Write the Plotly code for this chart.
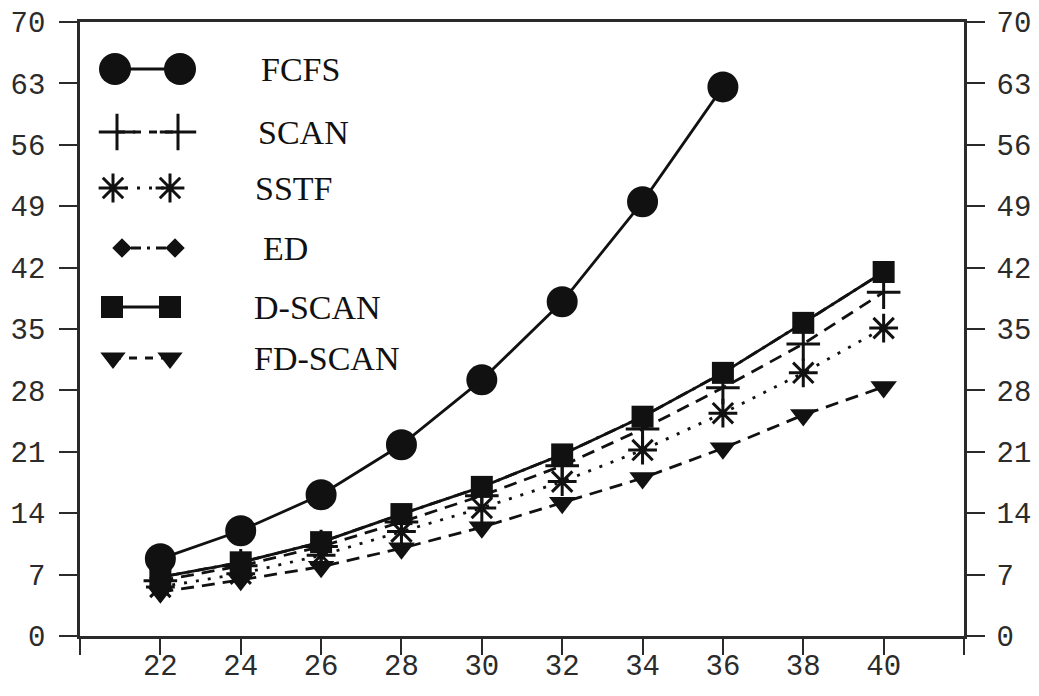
import plotly.graph_objects as go

# Number of requests vs. average service time for six disk-scheduling policies
requests = [22, 24, 26, 28, 30, 32, 34, 36, 38, 40]
fcfs = [8.8, 12.0, 16.1, 21.8, 29.2, 38.1, 49.5, 62.6]
scan = [6.3, 8.0, 10.2, 13.0, 16.0, 19.4, 23.6, 28.3, 33.3, 39.2]
sstf = [5.6, 7.1, 9.2, 11.9, 14.6, 17.6, 21.2, 25.4, 30.0, 35.1]
ed = [6.7, 8.4, 10.7, 13.9, 17.0, 20.7, 25.0, 30.0, 35.7, 41.5]
dscan = [6.7, 8.4, 10.7, 13.9, 17.0, 20.7, 25.0, 30.0, 35.7, 41.5]
fdscan = [5.0, 6.4, 7.9, 10.0, 12.4, 15.2, 18.0, 21.4, 25.2, 28.4]

y_ticks = [0, 7, 14, 21, 28, 35, 42, 49, 56, 63, 70]
x_ticks = [20, 22, 24, 26, 28, 30, 32, 34, 36, 38, 40, 42]
x_ticktext = ["" if v in (20, 42) else str(v) for v in x_ticks]

INK = "#111111"
AXIS = "#2a2a2a"
LW = 2.8

DASH = "13px,8px"
DOT = "3px,9px"
DASHDOT = "3px,6px,12px,6px"

series = [
    # name, values, symbol, size, dash
    ("ED", ed, "diamond", 14, DASHDOT),
    ("FD-SCAN", fdscan, "triangle-down", 23, DASH),
    ("SSTF", sstf, "asterisk-open", 24, DOT),
    ("SCAN", scan, "cross-thin-open", 24, DASH),
    ("D-SCAN", dscan, "square", 22, "solid"),
    ("FCFS", fcfs, "circle", 31, "solid"),
]

fig = go.Figure()
for name, vals, sym, size, dash in series:
    fig.add_trace(go.Scatter(
        x=requests[:len(vals)], y=vals, name=name, mode="lines+markers",
        line=dict(color=INK, width=LW, dash=dash),
        marker=dict(symbol=sym, size=size, color=INK,
                    line=dict(color=INK, width=3 if "open" in sym else 0)),
        showlegend=False, xaxis="x", yaxis="y",
    ))

# Hand-built key drawn on a pixel-scaled overlay axis
key_rows = [
    ("FCFS", "circle", 32, "solid", 115, 180, 69, 259),
    ("SCAN", "cross-thin-open", 26, "8px,8px", 117, 178, 132, 256),
    ("SSTF", "asterisk-open", 24, "3px,9px", 113, 170, 188, 253),
    ("ED", "diamond", 15, "3px,6px,10px,6px", 122, 175, 248, 261),
    ("D-SCAN", "square", 22, "solid", 112, 170, 307, 252),
    ("FD-SCAN", "triangle-down", 22, "8px,8px", 113, 170, 358, 252),
]
for name, sym, size, dash, x0, x1, yc, tx in key_rows:
    fig.add_trace(go.Scatter(
        x=[x0, x1], y=[yc, yc], mode="lines+markers",
        line=dict(color=INK, width=LW, dash=dash),
        marker=dict(symbol=sym, size=size, color=INK,
                    line=dict(color=INK, width=3 if "open" in sym else 0)),
        showlegend=False, xaxis="x3", yaxis="y3", hoverinfo="skip",
    ))
    fig.add_annotation(x=tx, y=yc, xref="x3", yref="y3", text=name,
                       showarrow=False, xanchor="left", yanchor="middle",
                       font=dict(family="Liberation Serif", size=34, color=INK))

# Invisible trace so the right-hand value axis is rendered
fig.add_trace(go.Scatter(x=[requests[0]], y=[y_ticks[0]], mode="markers",
                         marker=dict(opacity=0), showlegend=False,
                         xaxis="x", yaxis="y2", hoverinfo="skip"))

tick_font = dict(family="Liberation Mono", size=29, color="#2b2b2b")
common_y = dict(range=[0, 70], tickvals=y_ticks, ticks="outside", ticklen=18,
                tickwidth=2.4, tickcolor=AXIS, showline=True, linewidth=2.6,
                linecolor=AXIS, showgrid=False, zeroline=False,
                tickfont=tick_font, automargin=False)

fig.update_layout(
    width=1039, height=696,
    margin=dict(l=80, r=75, t=22, b=60),
    paper_bgcolor="white", plot_bgcolor="white",
    xaxis=dict(range=[20, 42], tickvals=x_ticks, ticktext=x_ticktext,
               ticks="outside", ticklen=16, tickwidth=2.4, tickcolor=AXIS,
               showline=True, linewidth=2.6, linecolor=AXIS, mirror=True,
               showgrid=False, zeroline=False, tickfont=tick_font,
               automargin=False, ticklabelstandoff=-15),
    yaxis=dict(side="left", ticklabelstandoff=8, **common_y),
    yaxis2=dict(side="right", overlaying="y", anchor="x",
                ticklabelstandoff=6, **common_y),
    xaxis3=dict(domain=[0, 1], range=[80, 964], visible=False, anchor="y3",
                overlaying="x"),
    yaxis3=dict(domain=[0, 1], range=[636, 22], visible=False, anchor="x3",
                overlaying="y"),
)

fig.write_html("out.html")
